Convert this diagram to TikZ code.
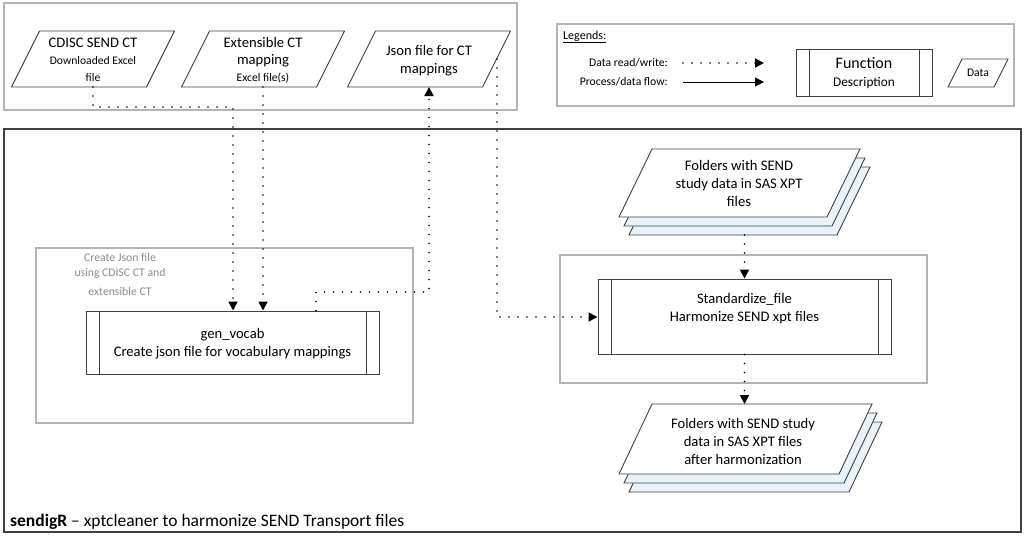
\documentclass[tikz,border=0pt]{standalone}
\usepackage{fontspec}
\setmainfont{Carlito}
\usetikzlibrary{arrows.meta,calc}
\definecolor{edge}{HTML}{404040}
\definecolor{grayline}{HTML}{B4B4B4}
\definecolor{graytext}{HTML}{8C8C8C}
\definecolor{backfill}{HTML}{EAF3FB}
\newcommand\mypara[6][]{%
  \draw[#1] ({#2-(#4)/2+(#6)/2},{#3-(#5)/2}) -- ({#2+(#4)/2+(#6)/2},{#3-(#5)/2})
   -- ({#2+(#4)/2-(#6)/2},{#3+(#5)/2}) -- ({#2-(#4)/2-(#6)/2},{#3+(#5)/2}) -- cycle;}
\newcommand\mainsize{\fontsize{14.6}{18}\selectfont}
\newcommand\smallsize{\fontsize{11.6}{14}\selectfont}
\begin{document}
\begin{tikzpicture}[x=1pt,y=-1pt,
  every node/.style={inner sep=0pt, font=\mainsize, align=center},
  dline/.style={line width=1.8pt, line cap=round, dash pattern=on 0pt off 9pt, draw=black},
  sline/.style={line width=1pt, draw=black},
  arr/.style={-{Triangle[length=9pt,width=9pt]}},
  parastyle/.style={draw=edge, line width=0.9pt, fill=white},
  backstyle/.style={draw=edge, line width=0.9pt, fill=backfill},
  gbox/.style={draw=grayline, line width=1.3pt},
  fbox/.style={draw=edge, line width=1pt, fill=white,
    path picture={
      \draw[edge, line width=1pt] ([xshift=13pt]path picture bounding box.north west) -- ([xshift=13pt]path picture bounding box.south west);
      \draw[edge, line width=1pt] ([xshift=-13pt]path picture bounding box.north east) -- ([xshift=-13pt]path picture bounding box.south east);
    }},
]
\useasboundingbox (0,0) rectangle (1024,535);
\fill[white] (0,0) rectangle (1024,535);

% outer boxes
\draw[grayline, line width=1.3pt] (4,3) rectangle (517,110);
\draw[grayline, line width=1.3pt] (557,24) rectangle (1014,106);
\draw[edge, line width=2pt] (4,129) rectangle (1021,532);

% group boxes
\node[gbox, minimum width=377pt, minimum height=175pt] (grp1) at (224.5,335.5) {};
\node[gbox, minimum width=367pt, minimum height=128pt] (grp2) at (743.5,319) {};
\node[text=graytext, font=\fontsize{11.7}{15}\selectfont] (grp1t) at (120,274.5) {Create Json file\\using CDISC CT and\\[4pt]extensible CT};

% data parallelograms (top)
\mypara[parastyle]{93}{59}{135}{56}{28}
\mypara[parastyle]{263}{59}{135}{56}{28}
\mypara[parastyle]{429}{59}{135}{56}{28}
\node (cdisc) at (93,60) {CDISC SEND CT\\[-1pt]{\smallsize Downloaded Excel}\\[-1pt]{\smallsize file}};
\node (ext) at (263,60.5) {Extensible CT\\[-1pt]mapping\\[-1pt]{\smallsize Excel file(s)}};
\node (json) at (429,60.5) {Json file for CT\\mappings};
\coordinate (cdisc-b) at (93,87);
\coordinate (ext-b) at (263,87);
\coordinate (json-b) at (429,87);
\coordinate (json-r) at (497,59);

% stacks
\mypara[backstyle]{749.5}{201}{208}{68}{33}
\mypara[backstyle]{744.5}{192}{208}{68}{33}
\mypara[parastyle]{739.5}{183}{208}{68}{33}
\node (folders) at (739,183.5) {Folders with SEND\\study data in SAS XPT\\files};
\coordinate (folders-b) at (744.5,235);

\mypara[backstyle]{755.5}{457}{220}{70}{33}
\mypara[backstyle]{750.5}{448}{220}{70}{33}
\mypara[parastyle]{745.5}{439}{220}{70}{33}
\node (harm) at (743,441.5) {Folders with SEND study\\data in SAS XPT files\\after harmonization};
\coordinate (harm-t) at (744.5,404);

% function boxes
\node[fbox, minimum width=293pt, minimum height=63pt] (gv) at (232.5,342.5) {};
\node (gvt) at (232.5,343.5) {gen\_vocab\\Create json file for vocabulary mappings};
\node[fbox, minimum width=293pt, minimum height=75pt] (std) at (744.5,316.5) {};
\node (stdt) at (744.5,308.5) {Standardize\_file\\Harmonize SEND xpt files};

% connectors
\coordinate (c1) at (233,107);
\draw[dline, arr] (cdisc-b) |- (c1) -- (c1 |- gv.north);
\draw[dline, arr] (ext-b) -- (ext-b |- gv.north);
\coordinate (c2) at (316,292);
\draw[dline, arr] (c2 |- gv.north) -- (c2) -| (json-b);
\coordinate (c3) at (497,317);
\draw[dline, arr] (json-r) -- (c3) -- (c3 -| std.west);
\draw[dline, arr] (folders-b) -- (folders-b |- std.north);
\draw[dline, arr] (std.south) -- (harm-t);

% legend
\node[anchor=west, font=\fontsize{12}{14}\selectfont] (leg) at (563,37) {\underline{Legends:}};
\node[anchor=east, font=\fontsize{11.7}{14}\selectfont] (legd) at (668,63) {Data read/write:};
\node[anchor=east, font=\fontsize{11.7}{14}\selectfont] (legp) at (668,82) {Process/data flow:};
\coordinate (ld1) at (683,63);
\coordinate (ld2) at (764,63);
\coordinate (lp1) at (683,82);
\coordinate (lp2) at (764,82);
\draw[dline, arr] (ld1) -- (ld2);
\draw[sline, arr] (lp1) -- (lp2);
\node[fbox, minimum width=136pt, minimum height=46pt] (lf) at (864,73) {};
\node (lft) at (864,73.5) {{\fontsize{16}{18}\selectfont Function}\\{\fontsize{13.3}{16}\selectfont Description}};
\mypara[parastyle]{978}{73}{46}{28}{14}
\node[font=\fontsize{11.6}{14}\selectfont] (ldata) at (978,73) {Data};

% title
\node[anchor=base west, font=\fontsize{17.5}{20}\selectfont] (title) at (10,526) {\textbf{sendigR} – xptcleaner to harmonize SEND Transport files};
\end{tikzpicture}
\end{document}
